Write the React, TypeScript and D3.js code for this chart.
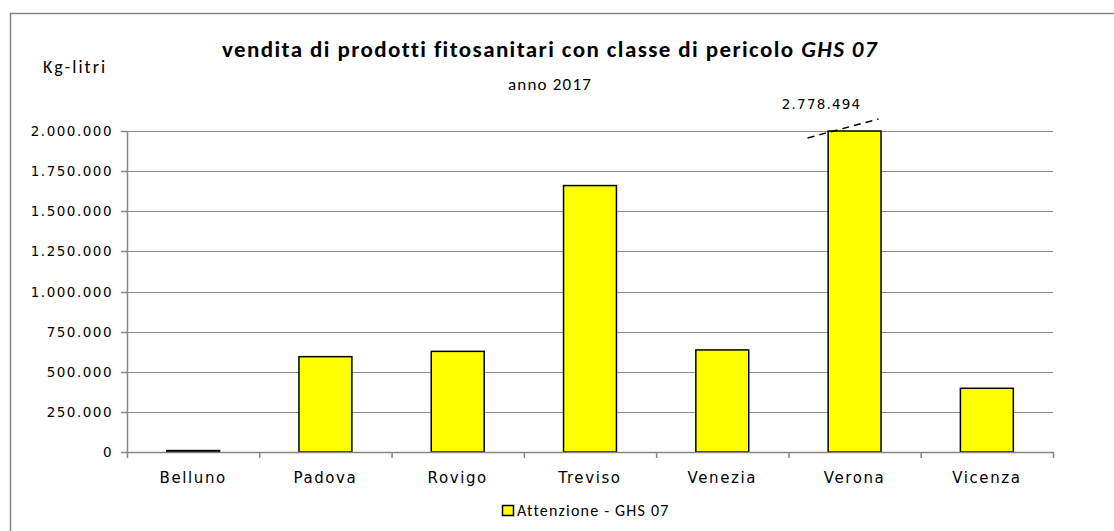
import React, { useEffect, useRef } from "react";
import * as d3 from "d3";

const provinces = ["Belluno", "Padova", "Rovigo", "Treviso", "Venezia", "Verona", "Vicenza"];
const ghs07 = [9000, 594000, 627000, 1660000, 636000, 2778494, 397000];
const yTicks = [0, 250000, 500000, 750000, 1000000, 1250000, 1500000, 1750000, 2000000];
const seriesName = "Attenzione - GHS 07";

const W = 1114, H = 531;
const calibri = "Carlito, Lato, 'Open Sans', sans-serif";
const verdana = "'DejaVu Sans', Verdana, sans-serif";

export default function App() {
  const ref = useRef<SVGSVGElement>(null);

  useEffect(() => {
    document.body.style.margin = "0";
    const svg = d3.select(ref.current);
    svg.selectAll("*").remove();

    const left = 127, right = 1053, top = 131, bottom = 452;
    const yMax = 2000000;

    const x = d3.scaleBand().domain(provinces).range([left, right]).paddingInner(0.6).paddingOuter(0.3);
    const xb = d3.scaleBand().domain(provinces).range([left, right]);
    const y = d3.scaleLinear().domain([0, yMax]).range([bottom, top]);
    const fmt = (v: number) => d3.format(",")(v).replace(/,/g, ".");

    svg.append("rect").attr("width", W).attr("height", H).attr("fill", "#fff");
    // outer frame (runs off the right and bottom)
    svg.append("rect").attr("x", 10.5).attr("y", 13.5).attr("width", 1200).attr("height", 600)
      .attr("fill", "none").attr("stroke", "#868686").attr("stroke-width", 1.5);

    // gridlines
    svg.append("g").selectAll("line").data(yTicks.filter(d => d > 0)).join("line")
      .attr("x1", left).attr("x2", right)
      .attr("y1", d => Math.round(y(d)) + 0.5).attr("y2", d => Math.round(y(d)) + 0.5)
      .attr("stroke", "#8c8c8c").attr("stroke-width", 1);

    // y axis
    const yAxis = svg.append("g");
    yAxis.append("line").attr("x1", left + 0.5).attr("x2", left + 0.5).attr("y1", top).attr("y2", bottom)
      .attr("stroke", "#868686").attr("stroke-width", 1.5);
    yAxis.selectAll("line.t").data(yTicks).join("line").attr("class", "t")
      .attr("x1", left - 6).attr("x2", left)
      .attr("y1", d => Math.round(y(d)) + 0.5).attr("y2", d => Math.round(y(d)) + 0.5)
      .attr("stroke", "#868686").attr("stroke-width", 1.5);
    yAxis.selectAll("text").data(yTicks).join("text")
      .attr("x", left - 14).attr("y", d => y(d) + 5)
      .attr("text-anchor", "end").attr("font-family", verdana).attr("font-size", 13.5)
      .attr("letter-spacing", 1.5).attr("fill", "#000")
      .text(d => fmt(d));

    // bars
    svg.append("g").selectAll("rect").data(provinces).join("rect")
      .attr("x", d => x(d)!).attr("width", x.bandwidth())
      .attr("y", (d, i) => y(Math.min(ghs07[i], yMax)))
      .attr("height", (d, i) => bottom - y(Math.min(ghs07[i], yMax)))
      .attr("fill", "#ffff00").attr("stroke", "#000").attr("stroke-width", 1.5);

    // x axis
    const xAxis = svg.append("g");
    xAxis.append("line").attr("x1", left).attr("x2", right).attr("y1", bottom + 0.5).attr("y2", bottom + 0.5)
      .attr("stroke", "#868686").attr("stroke-width", 1.5);
    const bounds = provinces.map(p => xb(p)!).concat([right]);
    xAxis.selectAll("line.t").data(bounds).join("line").attr("class", "t")
      .attr("x1", d => d + 0.5).attr("x2", d => d + 0.5).attr("y1", bottom).attr("y2", bottom + 6)
      .attr("stroke", "#868686").attr("stroke-width", 1.5);
    xAxis.selectAll("text").data(provinces).join("text")
      .attr("x", d => xb(d)! + xb.bandwidth() / 2).attr("y", bottom + 31)
      .attr("text-anchor", "middle").attr("font-family", verdana).attr("font-size", 15)
      .attr("letter-spacing", 1.6).attr("fill", "#000")
      .text(d => d);

    // broken bar marker for values above the axis
    provinces.forEach((p, i) => {
      if (ghs07[i] <= yMax) return;
      const cx = x(p)! + x.bandwidth() / 2;
      svg.append("line")
        .attr("x1", cx - 47).attr("y1", top + 7).attr("x2", cx + 24).attr("y2", top - 12)
        .attr("stroke", "#000").attr("stroke-width", 1.5).attr("stroke-dasharray", "7,5");
      svg.append("text").attr("x", cx - 33).attr("y", top - 22)
        .attr("text-anchor", "middle").attr("font-family", verdana).attr("font-size", 13.5)
        .attr("letter-spacing", 1.2).attr("fill", "#000")
        .text(fmt(ghs07[i]));
    });

    // titles
    const title = svg.append("text").attr("x", 550).attr("y", 57).attr("text-anchor", "middle")
      .attr("font-family", calibri).attr("font-size", 23).attr("font-weight", "bold")
      .attr("letter-spacing", 1.4).attr("fill", "#000");
    title.append("tspan").text("vendita di prodotti fitosanitari con classe di pericolo  ");
    title.append("tspan").attr("font-style", "italic").text("GHS 07");
    svg.append("text").attr("x", 550).attr("y", 90).attr("text-anchor", "middle")
      .attr("font-family", calibri).attr("font-size", 17).attr("letter-spacing", 1.2)
      .attr("fill", "#000").text("anno 2017");
    svg.append("text").attr("x", 43).attr("y", 73)
      .attr("font-family", calibri).attr("font-size", 18).attr("letter-spacing", 2)
      .attr("fill", "#000").text("Kg-litri");

    // legend
    const lg = svg.append("g").attr("transform", "translate(502,505)");
    lg.append("rect").attr("x", 0.5).attr("y", 0.5).attr("width", 11).attr("height", 10)
      .attr("fill", "#ffff00").attr("stroke", "#000").attr("stroke-width", 1.5);
    lg.append("text").attr("x", 15).attr("y", 11)
      .attr("font-family", calibri).attr("font-size", 16).attr("letter-spacing", 1.2)
      .attr("fill", "#000").text(seriesName);
  }, []);

  return <svg ref={ref} width={W} height={H} style={{ display: "block" }} />;
}
